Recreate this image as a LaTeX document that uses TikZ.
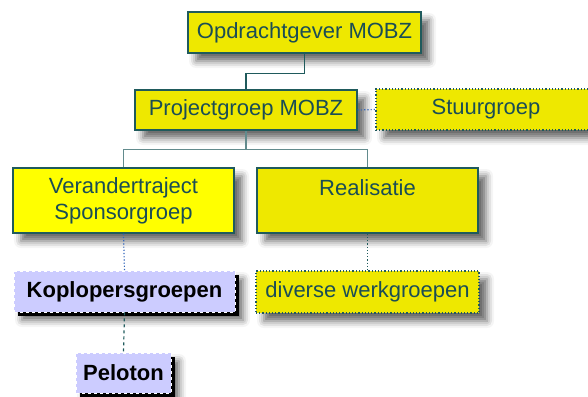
\documentclass[tikz,border=0pt]{standalone}
\usepackage{fontspec}
\setmainfont{Liberation Sans}
\usepackage{xcolor}
\usetikzlibrary{shadows,shadows.blur}
\definecolor{mobzgeel}{HTML}{EEE800}
\definecolor{mobzfel}{HTML}{FFFF00}
\definecolor{mobzrand}{HTML}{1F5A5C}
\definecolor{mobztekst}{HTML}{1A4D55}
\definecolor{mobzlila}{HTML}{CCCCFF}
\definecolor{mobzblauw}{HTML}{3366BB}
\tikzset{
	zacht/.style={
			blur shadow={shadow xshift=8pt, shadow yshift=-8pt,
					shadow blur radius=7pt, shadow opacity=60}
		},
	geelblok/.style={
			zacht, draw=mobzrand, line width=1.5pt, fill=mobzgeel,
			text=mobztekst, inner sep=0pt, align=center,
			font=\fontsize{22}{26}\selectfont
		},
	stippelblok/.style={
			geelblok, line width=1.2pt, dotted
		},
	lilablok/.style={
			zacht, drop shadow={shadow xshift=4pt, shadow yshift=-4pt,
					fill=black, opacity=1},
			draw=white, line width=0.8pt, dashed, fill=mobzlila,
			text=black, inner sep=0pt,
			font=\fontsize{22}{26}\selectfont\bfseries
		},
	lijn/.style={draw=mobzrand, line width=1.3pt},
	stippellijn/.style={draw=#1, line width=1.2pt, dotted}
}

\begin{document}
\begin{tikzpicture}[x=1pt, y=-1pt]
	\useasboundingbox (0, 0) rectangle (588, 396);

	% bovenste lagen
	\node[geelblok, minimum width=233, minimum height=41]	(opdracht) at (304.5, 32.5) {Opdrachtgever MOBZ};
	\node[geelblok, minimum width=222, minimum height=40]	(project) at (246, 110) {Projectgroep MOBZ};
	\node[stippelblok, minimum width=220, minimum height=41]	(stuur) at (486, 109.5) {Stuurgroep};

	% tweede laag
	\node[geelblok, fill=mobzfel, minimum width=221, minimum height=65]	(veranderen) at (123.5, 200.5) {Verandertraject\\Sponsorgroep};
	\node[geelblok, minimum width=221, minimum height=65, text height=16pt, text depth=27pt]	(realisatie) at (367.5, 200.5) {Realisatie};

	% werkgroepen
	\node[lilablok, minimum width=221, minimum height=41]	(koplopers) at (124.5, 291.5) {Koplopersgroepen};
	\node[stippelblok, minimum width=223, minimum height=42]	(werkgroepen) at (367.5, 292) {diverse werkgroepen};
	\node[lilablok, minimum width=95, minimum height=40]	(peloton) at (123.5, 373) {Peloton};

	% verbindingen
	\draw[lijn]	(opdracht.south) -- ++(0, 19.5) -| (project.north);
	\draw[lijn, draw=mobzrand!70]	(project.south) -- ++(0, 19) -| (veranderen.north)
						(project.south) ++(0, 19) -| (realisatie.north);
	\draw[stippellijn=mobzblauw]	(project.east) -- (stuur.west);
	\draw[stippellijn=mobzblauw]	(veranderen.south) -- (koplopers.north);
	\draw[stippellijn=mobzrand]	(realisatie.south) -- (werkgroepen.north);
	\draw[lijn, line width=1.2pt, dashed]	(koplopers.south) -- (peloton.north);
\end{tikzpicture}
\end{document}
